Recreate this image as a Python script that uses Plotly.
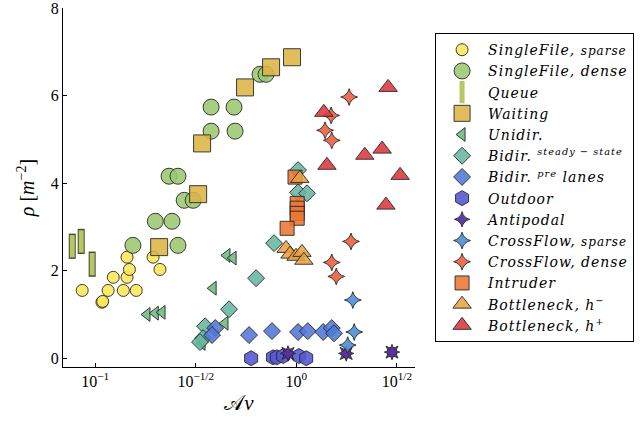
import plotly.graph_objects as go

# ---------------- data ----------------
sf_sparse_x = [0.0862, 0.108, 0.109, 0.116, 0.123, 0.138, 0.144, 0.148, 0.144, 0.160, 0.194, 0.210]
sf_sparse_y = [1.55, 1.28, 1.30, 1.55, 1.85, 1.55, 1.85, 2.03, 2.31, 1.55, 2.31, 2.03]

sf_dense_x = [0.154, 0.199, 0.241, 0.258, 0.233, 0.258, 0.277, 0.307, 0.377, 0.490, 0.377, 0.496, 0.660, 0.707]
sf_dense_y = [2.58, 3.13, 3.13, 2.58, 4.16, 4.16, 3.61, 3.61, 5.19, 5.74, 5.74, 5.19, 6.49, 6.49]

queue_x = [0.0769, 0.0852, 0.0966]
queue_y = [2.56, 2.67, 2.15]

waiting_x = [0.208, 0.325, 0.340, 0.556, 0.749, 0.952]
waiting_y = [2.54, 3.75, 4.91, 6.19, 6.65, 6.88]

unidir_x = [0.181, 0.199, 0.215, 0.452, 0.485, 0.386, 0.442, 0.340]
unidir_y = [1.00, 1.03, 1.05, 2.35, 2.29, 1.60, 0.80, 0.34]

bidir_ss_x = [0.775, 0.463, 0.631, 0.352, 0.344, 0.332, 1.02, 1.02, 1.13]
bidir_ss_y = [2.63, 1.12, 1.83, 0.73, 0.46, 0.37, 4.30, 3.79, 3.77]

bidir_pre_x = [0.395, 0.381, 0.582, 0.757, 1.02, 1.14, 1.36, 1.50, 1.54]
bidir_pre_y = [0.69, 0.53, 0.53, 0.62, 0.60, 0.62, 0.60, 0.69, 0.57]

outdoor_x = [0.596, 0.766, 0.80, 0.86, 1.03, 1.12]
outdoor_y = [0.00, 0.02, 0.02, 0.05, 0.05, 0.00]

antipodal_x = [0.909, 1.77, 2.99]
antipodal_y = [0.11, 0.11, 0.14]

cf_sparse_x = [1.91, 1.94, 1.80]
cf_sparse_y = [1.33, 0.60, 0.30]

cf_dense_x = [1.83, 1.49, 1.39, 1.50, 1.87, 1.50, 1.58]
cf_dense_y = [5.97, 5.55, 5.21, 4.98, 2.67, 2.19, 1.87]

intruder_x = [0.985, 1.01, 1.01, 1.01, 1.01, 0.90]
intruder_y = [4.14, 3.54, 3.43, 3.31, 3.20, 2.97]

bn_minus_x = [1.04, 0.889, 0.93, 0.997, 1.067, 1.09]
bn_minus_y = [4.11, 2.51, 2.38, 2.33, 2.42, 2.24]

bn_plus_x = [2.86, 1.37, 2.19, 2.67, 3.28, 1.42, 2.79]
bn_plus_y = [6.19, 5.62, 4.64, 4.78, 4.18, 4.41, 3.50]

x_tickvals = [10 ** -1, 10 ** -0.5, 10 ** 0, 10 ** 0.5]
x_ticktext = ["10<sup>−1</sup>", "10<sup>−1/2</sup>", "10<sup>0</sup>", "10<sup>1/2</sup>"]
y_tickvals = [0, 2, 4, 6, 8]

# ---------------- figure ----------------
EDGE = "rgba(40,40,40,0.9)"
SERIF = "Liberation Serif"
LSERIF = "DejaVu Serif"

fig = go.Figure()


def lab(t):
    return "<span style='letter-spacing:1px'><i>" + t + "</i></span>"


def add(x, y, name, symbol, color, size, show=True, lw=1.0, edge=EDGE, group=None):
    fig.add_trace(go.Scatter(
        x=x, y=y, mode="markers", name=name, showlegend=show,
        legendgroup=group or name,
        marker=dict(symbol=symbol, size=size, color=color,
                    line=dict(color=edge, width=lw)),
    ))


add(sf_sparse_x, sf_sparse_y, lab("SingleFile, <span style='font-size:12px'>sparse</span>"),
    "circle", "rgba(253,232,90,0.9)", 12)
add(sf_dense_x, sf_dense_y, lab("SingleFile, dense"), "circle", "rgba(155,199,112,0.88)", 16)
# queue: thin rectangles (outline + fill)
add(queue_x, queue_y, "q_outline", "line-ns", "rgba(60,60,40,1)", 18, show=False, lw=7,
    edge="rgba(60,60,40,0.95)", group="queue")
add(queue_x, queue_y, lab("Queue"), "line-ns", "rgba(180,196,98,1)", 16, lw=5,
    edge="rgba(183,199,100,1)", group="queue")
add(waiting_x, waiting_y, lab("Waiting"), "square", "rgba(221,180,70,0.88)", 17)
add(unidir_x, unidir_y, lab("Unidir."), "triangle-left", "rgba(108,185,128,0.88)", 12)
add(bidir_ss_x, bidir_ss_y, lab("Bidir. <sup>steady − state</sup>"), "diamond",
    "rgba(104,182,160,0.88)", 13)
add(bidir_pre_x, bidir_pre_y, lab("Bidir. <sup>pre</sup> lanes"), "diamond",
    "rgba(80,120,215,0.88)", 13)
add(outdoor_x, outdoor_y, lab("Outdoor"), "hexagon", "rgba(88,88,210,0.9)", 15)
add(antipodal_x, antipodal_y, "a_sq", "star-square", "rgba(90,50,160,0.95)", 11, show=False,
    group="anti")
add(antipodal_x, antipodal_y, lab("Antipodal"), "star-diamond", "rgba(90,50,160,0.95)", 11,
    group="anti")
add(cf_sparse_x, cf_sparse_y, lab("CrossFlow, <span style='font-size:12px'>sparse</span>"),
    "star-diamond", "rgba(80,145,215,0.92)", 12)
add(cf_dense_x, cf_dense_y, lab("CrossFlow, dense"), "star-diamond", "rgba(236,100,70,0.92)", 12)
add(intruder_x, intruder_y, lab("Intruder"), "square", "rgba(234,118,50,0.88)", 14)
add(bn_minus_x, bn_minus_y, lab("Bottleneck, h<sup>−</sup>"), "triangle-up",
    "rgba(235,160,65,0.88)", 16)
add(bn_plus_x, bn_plus_y, lab("Bottleneck, h<sup>+</sup>"), "triangle-up",
    "rgba(222,60,66,0.9)", 16)

fig.update_layout(
    width=644, height=423,
    margin=dict(l=63, r=229, t=8, b=56, autoexpand=False),
    paper_bgcolor="white", plot_bgcolor="white",
    font=dict(family=SERIF, size=15, color="black"),
    showlegend=True,
    legend=dict(
        x=1.057, y=0.93, xanchor="left", yanchor="top",
        bordercolor="black", borderwidth=1, bgcolor="white",
        font=dict(family=LSERIF, size=14),
        itemsizing="trace", itemwidth=42,
        tracegroupgap=0,
    ),
)

fig.update_xaxes(
    type="log", range=[-1.16, 0.59],
    tickvals=x_tickvals, ticktext=x_ticktext,
    ticks="inside", ticklen=4, tickcolor="black",
    showline=True, linecolor="black", linewidth=1,
    showgrid=False, zeroline=False, automargin=False,
    ticklabeloverflow="allow",
    tickfont=dict(family=SERIF, size=16),
    title=dict(text="<span style='font-family:DejaVu Sans'>𝒜</span><i>v</i>",
               font=dict(family=SERIF, size=21), standoff=6),
)
fig.update_yaxes(
    range=[-0.2, 8.005],
    tickvals=y_tickvals,
    ticks="inside", ticklen=4, tickcolor="black",
    showline=True, linecolor="black", linewidth=1,
    showgrid=False, zeroline=False, automargin=False,
    ticklabeloverflow="allow",
    tickfont=dict(family=SERIF, size=16),
    title=dict(text="<i>ρ</i> [<i>m</i><sup>−2</sup>]", font=dict(family=SERIF, size=20), standoff=10),
)

fig.write_html("out.html", post_script="document.body.style.margin='0';",
               config={"displayModeBar": False})
